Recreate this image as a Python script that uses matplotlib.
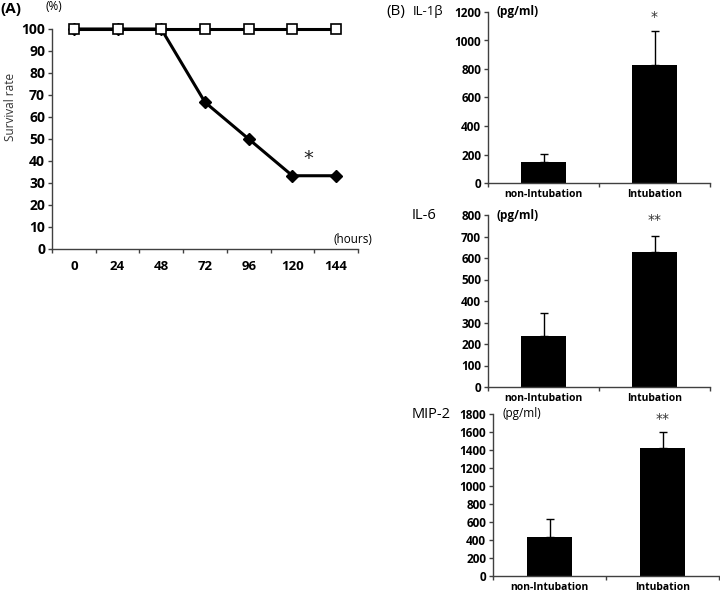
import numpy as np
import matplotlib
matplotlib.use("Agg")
import matplotlib.pyplot as plt

plt.rcParams['font.family'] = ['Open Sans', 'DejaVu Sans']

# ── data ──────────────────────────────────────────────────────────────
hours = ["0", "24", "48", "72", "96", "120", "144"]
survival_control = [100, 100, 100, 100, 100, 100, 100]
survival_intub = [100, 100, 100, 66.7, 50, 33.3, 33.3]

groups = ["non-Intubation", "Intubation"]
il1b_mean = [145, 825]
il1b_err = [62, 240]
il6_mean = [237, 630]
il6_err = [105, 72]
mip2_mean = [430, 1420]
mip2_err = [200, 180]

W, H = 720, 594
fig = plt.figure(figsize=(W / 100, H / 100), dpi=100)


def rect(x0, x1, ytop, ybot):
    return [x0 / W, 1 - ybot / H, (x1 - x0) / W, (ybot - ytop) / H]


def style_axes(ax):
    for s in ("top", "right"):
        ax.spines[s].set_visible(False)
    for s in ("left", "bottom"):
        ax.spines[s].set_color("#404040")
        ax.spines[s].set_linewidth(1)


# ── panel A: survival ────────────────────────────────────────────────
axA = fig.add_axes(rect(52, 358, 29, 249))
style_axes(axA)
x = np.arange(len(hours))
axA.plot(x, survival_intub, color="black", lw=2.2, marker="D", ms=6,
         mfc="black", mec="black", zorder=3, clip_on=False)
axA.plot(x, survival_control, color="black", lw=2.2, marker="s", ms=7,
         mfc="white", mec="black", mew=1.2, zorder=4, clip_on=False)
axA.set_xlim(-0.5, len(hours) - 0.5)
axA.set_ylim(0, 100)
axA.set_yticks(range(0, 101, 10))
axA.tick_params(axis="y", length=3, width=1, color="#404040", pad=2,
                labelsize=10)
for t in axA.get_yticklabels():
    t.set_fontweight("bold")
axA.set_xticks(np.arange(-0.5, len(hours), 1.0))
axA.set_xticklabels([])
axA.tick_params(axis="x", which="major", length=3, width=1, color="#404040")
axA.set_xticks(x, minor=True)
axA.set_xticklabels(hours, minor=True, fontweight="bold", fontsize=9.5)
axA.tick_params(axis="x", which="minor", length=0, pad=8)
axA.set_ylabel("Survival rate", fontsize=8.5, color="#333333")
axA.yaxis.set_label_coords(-0.115, 0.645)
axA.text(5.36, 41, "*", ha="center", va="center", fontsize=14,
         family="DejaVu Sans", color="#222222")

fig.text(0 / W, 1 - 9 / H, "(A)", fontsize=11, fontweight="bold", va="center")
fig.text(45 / W, 1 - 7 / H, "(%)", fontsize=8.5, va="center")
fig.text(334 / W, 1 - 240 / H, "(hours)", fontsize=8.5, va="center")


# ── panel B: cytokines ───────────────────────────────────────────────
def bar_panel(r, means, errs, ymax, step, star, unit_bold):
    ax = fig.add_axes(r)
    style_axes(ax)
    xb = np.arange(len(groups))
    ax.bar(xb, means, width=0.4, color="black", zorder=2)
    ax.errorbar(xb, means, yerr=[[0] * len(errs), errs], fmt="none",
                ecolor="black", elinewidth=1, capsize=3, capthick=1, zorder=1)
    ax.set_xlim(-0.5, len(groups) - 0.5)
    ax.set_ylim(0, ymax)
    ax.set_yticks(np.arange(0, ymax + 1, step))
    ax.tick_params(axis="y", length=3, width=1, color="#404040", pad=2,
                   labelsize=8.5)
    for t in ax.get_yticklabels():
        t.set_fontweight("bold")
    ax.set_xticks(np.arange(-0.5, len(groups), 1.0))
    ax.set_xticklabels([])
    ax.tick_params(axis="x", which="major", length=3, width=1, color="#404040")
    ax.set_xticks(xb, minor=True)
    ax.set_xticklabels(groups, minor=True, fontweight="bold", fontsize=7.5)
    ax.tick_params(axis="x", which="minor", length=0, pad=4)
    ax.text(-0.42, ymax, "(pg/ml)", fontsize=8.5, va="center",
            fontweight="bold" if unit_bold else "normal")
    ax.text(1, ymax * 0.97, star, ha="center", va="center", fontsize=10,
            family="DejaVu Sans", color="#333333", clip_on=False)
    return ax


bar_panel(rect(488, 710, 12, 183), il1b_mean, il1b_err, 1200, 200, "*", True)
bar_panel(rect(488, 710, 215, 387), il6_mean, il6_err, 800, 100, "**", True)
bar_panel(rect(493, 719, 414, 576), mip2_mean, mip2_err, 1800, 200, "**", False)

fig.text(386 / W, 1 - 12 / H, "(B)", fontsize=11, va="center")
fig.text(413 / W, 1 - 12 / H, "IL-1β", fontsize=9.5, va="center")
fig.text(412 / W, 1 - 215 / H, "IL-6", fontsize=10.5, va="center")
fig.text(412 / W, 1 - 415 / H, "MIP-2", fontsize=10.5, va="center")

fig.savefig("out.png", dpi=100)
